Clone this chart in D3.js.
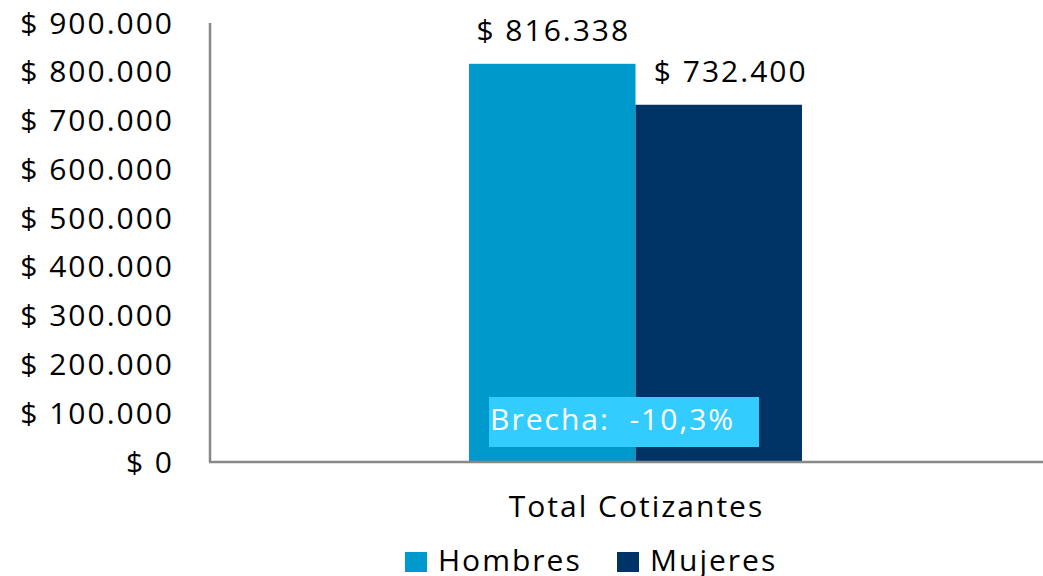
<!DOCTYPE html>
<html lang="es">
<head>
  <meta charset="UTF-8">
  <title>Total Cotizantes</title>
  <script src="https://d3js.org/d3.v7.min.js"></script>
  <style>
    body { margin: 0; background: #fff; }
    text { font-family: "Open Sans", Lato, sans-serif; fill: #000; white-space: pre; letter-spacing: 2px; }
    .axis-line { stroke: #888; stroke-width: 2.5; fill: none; }
  </style>
</head>
<body>
  <script>
    // data
    const categories = ['Total Cotizantes'];
    const seriesNames = ['Hombres', 'Mujeres'];
    const hombres = [816338];
    const mujeres = [732400];
    const yTicks = [0, 100000, 200000, 300000, 400000, 500000, 600000, 700000, 800000, 900000];
    const gapLabel = 'Brecha:  -10,3%';

    const colors = {Hombres: '#0099cc', Mujeres: '#003366'};
    const W = 1043, H = 576;
    const fs = '30px';

    const fmt = v => '$ ' + d3.format(',')(v).replace(/,/g, '.');

    const svg = d3.select('body').append('svg')
      .attr('width', W).attr('height', H);

    // scales
    const y = d3.scaleLinear().domain([0, 900000]).range([462, 23]);
    const x = d3.scaleBand().domain(categories).range([210, 1061]).paddingInner(0).paddingOuter(0.778);
    const xs = d3.scaleBand().domain(seriesNames).range([0, x.bandwidth()]);

    // y axis labels
    svg.append('g').selectAll('text')
      .data(yTicks)
      .join('text')
      .attr('x', 174)
      .attr('y', d => y(d))
      .attr('dy', '0.35em')
      .attr('text-anchor', 'end')
      .style('font-size', fs)
      .text(fmt);

    // bars
    const rows = categories.map((c, i) => ({cat: c, vals: [
      {name: 'Hombres', v: hombres[i]},
      {name: 'Mujeres', v: mujeres[i]}
    ]}));

    const grp = svg.append('g').selectAll('g')
      .data(rows)
      .join('g')
      .attr('transform', d => `translate(${x(d.cat)},0)`);

    grp.selectAll('rect')
      .data(d => d.vals)
      .join('rect')
      .attr('x', d => xs(d.name))
      .attr('y', d => y(d.v))
      .attr('width', xs.bandwidth())
      .attr('height', d => y(0) - y(d.v))
      .attr('fill', d => colors[d.name]);

    // value labels (excel nudged the second one a bit right)
    grp.selectAll('text.val')
      .data(d => d.vals)
      .join('text')
      .attr('class', 'val')
      .attr('x', (d, i) => xs(d.name) + xs.bandwidth() / 2 + 1 + (i === 1 ? 11 : 0))
      .attr('y', d => y(d.v) - 23)
      .attr('text-anchor', 'middle')
      .style('font-size', fs)
      .text(d => fmt(d.v));

    // gap annotation box
    const box = svg.append('g').attr('transform', `translate(${x(categories[0]) + 20},397)`);
    box.append('rect').attr('width', 270).attr('height', 50).attr('fill', '#33ccff');
    box.append('text')
      .attr('x', 1).attr('y', 33)
      .style('font-size', fs)
      .style('fill', '#fff')
      .text(gapLabel);

    // axis lines
    svg.append('line').attr('class', 'axis-line')
      .attr('x1', 210).attr('x2', 210).attr('y1', 23).attr('y2', 462);
    svg.append('line').attr('class', 'axis-line')
      .attr('x1', 209).attr('x2', W).attr('y1', 462).attr('y2', 462);

    // category label
    svg.append('g').selectAll('text')
      .data(categories)
      .join('text')
      .attr('x', d => x(d) + x.bandwidth() / 2 + 1)
      .attr('y', 517)
      .attr('text-anchor', 'middle')
      .style('font-size', fs)
      .text(d => d);

    // legend
    const legendX = [405, 617];
    const lg = svg.append('g').selectAll('g')
      .data(seriesNames)
      .join('g')
      .attr('transform', (d, i) => `translate(${legendX[i]},552)`);
    lg.append('rect').attr('width', 22).attr('height', 20).attr('fill', d => colors[d]);
    lg.append('text').attr('x', 33).attr('y', 19).style('font-size', fs).text(d => d);
  </script>
</body>
</html>
